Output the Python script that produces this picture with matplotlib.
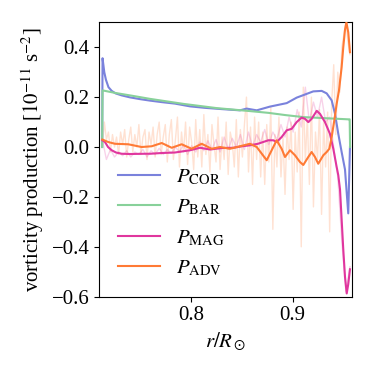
import numpy as np
import matplotlib
matplotlib.use("Agg")
import matplotlib.pyplot as plt

plt.rcParams['font.family'] = ['Liberation Serif', 'DejaVu Serif']
plt.rcParams['mathtext.fontset'] = 'stix'

# ---------------- data ----------------
r_cor = [0.7128, 0.7132, 0.7149, 0.7165, 0.7190, 0.7222, 0.7260, 0.7320, 0.7402, 0.7500,
         0.7599, 0.7714, 0.7844, 0.7992, 0.8139, 0.8304, 0.8483, 0.8549, 0.8648, 0.8778,
         0.8943, 0.9041, 0.9139, 0.9204, 0.9287, 0.9336, 0.9385, 0.9418, 0.9450, 0.9483,
         0.9516, 0.9548, 0.9565]
p_cor = [0.0, 0.356, 0.30, 0.27, 0.24, 0.225, 0.215, 0.207, 0.199, 0.192,
         0.186, 0.180, 0.174, 0.163, 0.157, 0.152, 0.147, 0.154, 0.147, 0.162,
         0.176, 0.198, 0.213, 0.223, 0.225, 0.215, 0.187, 0.133, 0.053, -0.02,
         -0.09, -0.266, 0.0]

r_bar = [0.7128, 0.7132, 0.7254, 0.7430, 0.7599, 0.7926, 0.8254, 0.8582, 0.8762, 0.8930,
         0.9106, 0.9300, 0.9548, 0.9562, 0.9566]
p_bar = [0.0, 0.227, 0.217, 0.205, 0.193, 0.173, 0.156, 0.144, 0.137, 0.128,
         0.120, 0.116, 0.111, 0.111, 0.0]

r_mag = [0.7130, 0.7156, 0.7186, 0.7222, 0.7264, 0.7320, 0.7402, 0.7549, 0.7599, 0.7714,
         0.7844, 0.7992, 0.8090, 0.8189, 0.8304, 0.8418, 0.8503, 0.8582, 0.8660, 0.8762,
         0.8811, 0.8844, 0.8893, 0.8943, 0.8992, 0.9041, 0.9090, 0.9123, 0.9155, 0.9188,
         0.9238, 0.9270, 0.9319, 0.9368, 0.9401, 0.9434, 0.9450, 0.9467, 0.9483, 0.9499,
         0.9516, 0.9533, 0.9548, 0.9565]
p_mag = [0.027, 0.02, 0.0, -0.013, -0.022, -0.027, -0.028, -0.027, -0.027, -0.024,
         -0.022, -0.013, -0.003, -0.010, -0.004, -0.003, 0.003, 0.007, 0.013, 0.027,
         0.027, 0.020, 0.040, 0.067, 0.073, 0.100, 0.118, 0.113, 0.100, 0.113,
         0.145, 0.133, 0.100, 0.053, -0.007, -0.080, -0.113, -0.170, -0.290, -0.410,
         -0.520, -0.587, -0.550, -0.490]

r_adv = [0.7130, 0.7188, 0.7254, 0.7385, 0.7516, 0.7615, 0.7714, 0.7812, 0.7910, 0.8008,
         0.8107, 0.8205, 0.8287, 0.8385, 0.8483, 0.8582, 0.8648, 0.8746, 0.8844, 0.8893,
         0.8926, 0.8975, 0.9024, 0.9073, 0.9106, 0.9155, 0.9188, 0.9221, 0.9253, 0.9303,
         0.9336, 0.9362, 0.9385, 0.9411, 0.9434, 0.9457, 0.9483, 0.9499, 0.9516, 0.9530,
         0.9548, 0.9565]
p_adv = [0.030, 0.020, 0.013, 0.011, 0.000, 0.003, 0.016, -0.003, 0.011, -0.007,
         0.013, -0.007, 0.000, -0.007, 0.003, 0.013, 0.000, -0.053, 0.027, -0.007,
         -0.040, -0.013, -0.033, -0.060, -0.072, -0.040, -0.020, -0.040, -0.067, -0.033,
         -0.020, -0.007, 0.040, 0.107, 0.173, 0.227, 0.320, 0.400, 0.470, 0.500,
         0.460, 0.380]

adv_raw = [0.0, 0.10, 0.03, 0.06, -0.02, 0.05, 0.00, 0.04, -0.03, 0.06,
           0.01, 0.07, -0.04, 0.03, 0.08, -0.02, 0.05, 0.00, 0.09, -0.03,
           0.04, 0.07, -0.05, 0.06, 0.01, 0.08, -0.04, 0.05, 0.10, -0.03,
           0.04,
           0.09, -0.06, 0.05, 0.11, -0.05, 0.03, 0.12, -0.08, 0.06, -0.02,
           0.10, -0.07, 0.08, 0.02, -0.09, 0.11, -0.04, 0.07, -0.08, 0.13,
           -0.03, 0.05, -0.10, 0.09, 0.01, -0.06, 0.12, -0.09, 0.04, -0.05,
           0.10, -0.11, 0.06, 0.02, -0.08, 0.11, -0.12, 0.07, -0.04, 0.09,
           0.20, -0.10, 0.08, -0.15, 0.12, -0.05, 0.10, -0.12, 0.06, -0.15,
           0.09, -0.06, 0.16, -0.33, 0.05, -0.08, 0.12, -0.12, 0.04, -0.19,
           0.08, -0.05, 0.10, -0.25, 0.06, -0.10, 0.14, -0.40, 0.24, -0.06,
           0.12, -0.15, 0.20, -0.24, 0.06, -0.05, 0.15, -0.27, 0.10, -0.08,
           0.14, -0.34, 0.18, 0.33, 0.05, 0.30, 0.22, 0.40, 0.45, 0.50,
           0.42, 0.37]

mag_raw = [0.03, -0.05, -0.01, -0.04, -0.02, -0.035, -0.015, -0.04, -0.02, -0.03,
           -0.01, -0.04, -0.015, -0.03, -0.005, -0.03, -0.01, -0.025, 0.0, -0.02,
           0.01, -0.03, 0.005, -0.02, 0.02, -0.015, 0.025, -0.01, 0.03, -0.02,
           0.04, -0.01, 0.035, 0.0, 0.05, -0.01, 0.06, 0.0, 0.05, 0.02,
           0.07, 0.01, 0.06, 0.03, 0.09, 0.04, 0.12, 0.06, 0.15, 0.08,
           0.24, 0.10, 0.18, 0.12, 0.20, 0.10, 0.12, 0.0, -0.12, -0.38,
           -0.58, -0.48]

r_start, r_end = 0.713, 0.9565
r_adv_raw = np.linspace(r_start, r_end, len(adv_raw))
r_mag_raw = np.linspace(r_start, r_end, len(mag_raw))

labels = [r'$P_\mathrm{COR}$', r'$P_\mathrm{BAR}$', r'$P_\mathrm{MAG}$', r'$P_\mathrm{ADV}$']
colors = ['#7a82dc', '#88d19a', '#e0369e', '#ff7a35']

# ---------------- plot ----------------
fig = plt.figure(figsize=(3.74, 3.74), dpi=100)
ax = fig.add_axes([0.2655, 0.2067, 0.6757, 0.7337])

ax.plot(r_adv_raw, adv_raw, color=colors[3], alpha=0.22, lw=1.0, zorder=1)
ax.plot(r_mag_raw, mag_raw, color=colors[2], alpha=0.22, lw=1.0, zorder=1)

ax.plot(r_cor, p_cor, color=colors[0], lw=1.5, label=labels[0], zorder=3)
ax.plot(r_bar, p_bar, color=colors[1], lw=1.5, label=labels[1], zorder=3)
ax.plot(r_mag, p_mag, color=colors[2], lw=1.5, label=labels[2], zorder=3)
ax.plot(r_adv, p_adv, color=colors[3], lw=1.5, label=labels[3], zorder=3)

ax.set_xlim(0.710, 0.9585)
ax.set_ylim(-0.6, 0.5)
ax.set_xticks([0.8, 0.9])
ax.set_yticks([-0.6, -0.4, -0.2, 0.0, 0.2, 0.4])
ax.tick_params(labelsize=15)
ax.set_xlabel(r'$r/R_\odot$', fontsize=15)
ax.set_ylabel(r'vorticity production [$10^{-11}$ s$^{-2}$]', fontsize=15)

ax.legend(loc='lower left', frameon=False, fontsize=15)

fig.savefig('out.png', dpi=100)
